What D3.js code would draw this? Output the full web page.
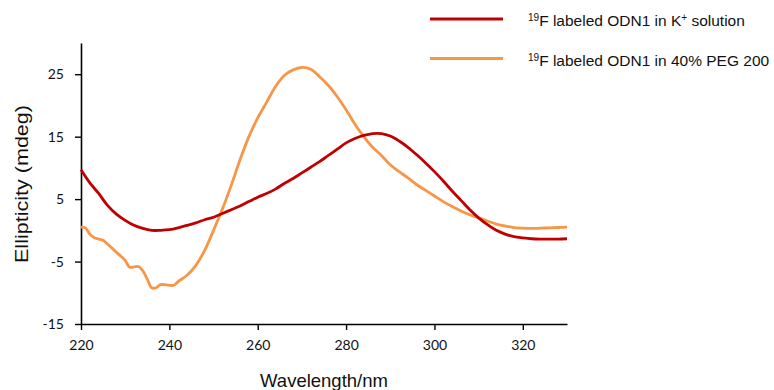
<!DOCTYPE html>
<html>
<head>
<meta charset="utf-8">
<script src="https://cdn.jsdelivr.net/npm/d3@7"></script>
<style>
  body { margin: 0; background: #fff; }
  svg { display: block; }
</style>
</head>
<body>
<svg id="chart" width="774" height="390"></svg>
<script>
// ---- data ----
const kWave = [220,222,224,226,228,230,232,234,236,238,240,242,244,246,248,250,252,254,256,258,
  260,262,264,266,268,270,272,274,276,278,280,282,284,286,288,290,292,294,296,298,
  300,302,304,306,308,310,312,314,316,318,320,322,324,326,328,330];
const kSolution = [9.7,7.6,5.9,4.0,2.6,1.6,0.8,0.3,0.0,0.0,0.1,0.4,0.8,1.2,1.7,2.1,2.7,3.3,3.9,4.6,
  5.3,5.9,6.6,7.5,8.3,9.2,10.1,11.0,12.0,13.0,14.0,14.7,15.2,15.5,15.5,15.1,14.3,13.3,12.1,10.8,
  9.4,7.9,6.3,4.8,3.3,2.0,0.9,0.0,-0.6,-1.0,-1.2,-1.35,-1.4,-1.4,-1.4,-1.35];

const pegWave = [220,221,222,223,224,225,226,228,230,231,233,234,235,236,237,238,240,241,242,244,
  246,248,250,252,254,256,258,260,262,264,266,268,270,272,274,276,278,280,282,284,
  286,288,290,292,294,296,298,300,302,304,306,308,310,312,314,316,318,320,322,324,326,328,330];
const peg200 = [0.5,0.4,-0.6,-1.2,-1.4,-1.6,-2.2,-3.5,-4.8,-5.9,-5.8,-6.5,-7.8,-9.2,-9.2,-8.7,-8.8,-8.8,-8.2,-7.2,
  -5.6,-3.2,0.0,3.4,7.2,11.3,15.0,18.0,20.5,23.0,24.8,25.7,26.1,25.8,24.6,23.2,21.4,19.3,17.0,15.0,
  13.3,12.0,10.5,9.4,8.4,7.3,6.4,5.5,4.6,3.8,3.1,2.5,2.0,1.5,1.0,0.7,0.45,0.35,0.3,0.35,0.4,0.45,0.5];

const xTicks = [220, 240, 260, 280, 300, 320];
const yTicks = [-15, -5, 5, 15, 25];
const legendText = ["labeled ODN1 in K", "labeled ODN1 in 40% PEG 200"];
const colors = ["#c00000", "#f79646"];

// ---- layout ----
const svg = d3.select("#chart");
const x = d3.scaleLinear().domain([220, 330]).range([81, 567]);
const y = d3.scaleLinear().domain([-15, 30]).range([324, 43]);

const tickFont = "Lato, 'Open Sans', sans-serif";
const textFont = "'Liberation Sans', Arial, sans-serif";

// axes
const xAxis = svg.append("g")
  .attr("transform", `translate(0,${y(-15)})`)
  .call(d3.axisBottom(x).tickValues(xTicks).tickSize(6).tickSizeOuter(0).tickPadding(10));

const yAxis = svg.append("g")
  .attr("transform", `translate(${x(220)},0)`)
  .call(d3.axisLeft(y).tickValues(yTicks).tickSize(6).tickSizeOuter(0).tickPadding(11));

[xAxis, yAxis].forEach(g => {
  g.select(".domain").attr("stroke", "#000").attr("stroke-width", 1.6);
  g.selectAll(".tick line").attr("stroke", "#000").attr("stroke-width", 1.4);
  g.selectAll(".tick text")
    .attr("fill", "#111")
    .style("font-family", tickFont)
    .style("font-size", "14px");
});
yAxis.selectAll(".tick text").text(d => d < 0 ? "-" + Math.abs(d) : d);

// axis titles
svg.append("text")
  .attr("x", 324).attr("y", 387)
  .attr("text-anchor", "middle")
  .style("font-family", textFont)
  .style("font-size", "18.5px")
  .attr("fill", "#111")
  .text("Wavelength/nm");

svg.append("text")
  .attr("transform", "translate(28,184) rotate(-90)")
  .attr("text-anchor", "middle")
  .attr("textLength", 158)
  .attr("lengthAdjust", "spacingAndGlyphs")
  .style("font-family", textFont)
  .style("font-size", "19px")
  .attr("fill", "#111")
  .text("Ellipticity (mdeg)");

// curves
const line = d3.line()
  .x(d => x(d[0]))
  .y(d => y(d[1]))
  .curve(d3.curveCatmullRom);

const series = [
  kWave.map((w, i) => [w, kSolution[i]]),
  pegWave.map((w, i) => [w, peg200[i]])
];

// orange first, red on top where they cross
[1, 0].forEach(i => {
  svg.append("path")
    .datum(series[i])
    .attr("d", line)
    .attr("fill", "none")
    .attr("stroke", colors[i])
    .attr("stroke-width", 2.8)
    .attr("stroke-linejoin", "round");
});

// legend
const legend = svg.append("g");
legendText.forEach((t, i) => {
  const ly = 19 + i * 39.5;
  legend.append("line")
    .attr("x1", 430).attr("x2", 503)
    .attr("y1", ly).attr("y2", ly)
    .attr("stroke", colors[i])
    .attr("stroke-width", 3);
  const txt = legend.append("text")
    .attr("x", 528).attr("y", ly + 7)
    .style("font-family", textFont)
    .style("font-size", "15.5px")
    .attr("fill", "#111");
  txt.append("tspan").attr("dy", -5).style("font-size", "10px").text("19");
  txt.append("tspan").attr("dy", 5).text("F " + t);
  if (i === 0) {
    txt.append("tspan").attr("dy", -5).style("font-size", "10px").text("+");
    txt.append("tspan").attr("dy", 5).text(" solution");
  }
});
</script>
</body>
</html>
